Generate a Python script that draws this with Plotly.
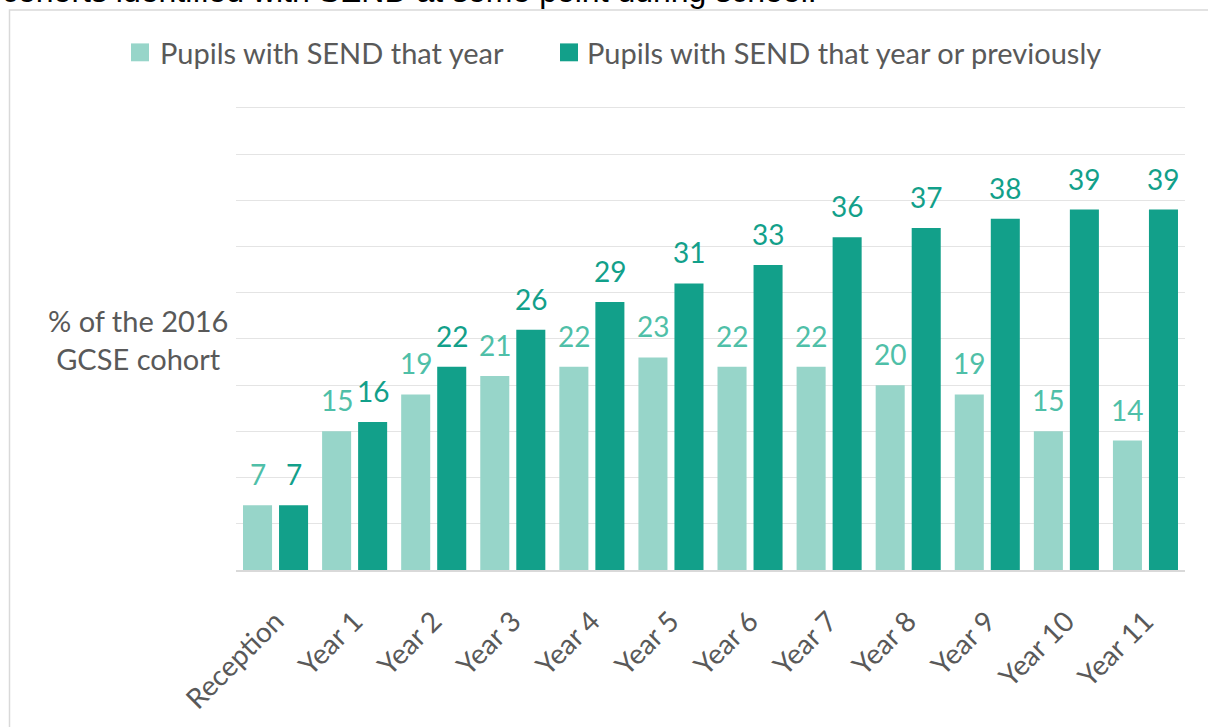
import plotly.graph_objects as go

# Share of the 2016 GCSE cohort identified with SEND, by school year
categories = ["Reception", "Year 1", "Year 2", "Year 3", "Year 4", "Year 5",
              "Year 6", "Year 7", "Year 8", "Year 9", "Year 10", "Year 11"]
send_that_year = [7, 15, 19, 21, 22, 23, 22, 22, 20, 19, 15, 14]
send_ever = [7, 16, 22, 26, 29, 31, 33, 36, 37, 38, 39, 39]
series_names = ["Pupils with SEND that year", "Pupils with SEND that year or previously"]

LIGHT = "#97D5C9"
DARK = "#12A08A"
LIGHT_TXT = "#4FBFA8"
GREY_TXT = "#595959"
FONT = "Lato"

W, H = 1208, 727
# plot box in page pixels; y range tops out a touch above 50 so the top gridline shows
L, R, T, B = 236, 1185, 106, 573
Y_MAX = 50.2


def px_x(x):
    return (x - L) / (R - L)


def px_y(y):
    return (B - y) / (B - T)


fig = go.Figure()
fig.add_trace(go.Bar(x=categories, y=send_that_year, name=series_names[0],
                     marker=dict(color=LIGHT, line=dict(width=0))))
fig.add_trace(go.Bar(x=categories, y=send_ever, name=series_names[1],
                     marker=dict(color=DARK, line=dict(width=0))))

annotations = []
# value labels above each bar
for vals, shift, col in [(send_that_year, -18, LIGHT_TXT), (send_ever, 18, DARK)]:
    for c, v in zip(categories, vals):
        annotations.append(dict(x=c, y=v, xref="x", yref="y", text=str(v),
                                showarrow=False, xshift=shift, yanchor="bottom",
                                yshift=12, font=dict(family=FONT, size=28, color=col)))

# axis title at the left
annotations.append(dict(x=px_x(138), y=px_y(341), xref="paper", yref="paper",
                        text="% of the 2016<br>GCSE cohort", showarrow=False,
                        xanchor="center", yanchor="middle", align="center",
                        font=dict(family=FONT, size=29, color=GREY_TXT)))

# legend entries
shapes = []
legend_items = [(131, 158, LIGHT, series_names[0]), (560, 585, DARK, series_names[1])]
for sq_x, tx, col, label in legend_items:
    shapes.append(dict(type="rect", xref="paper", yref="paper",
                       x0=px_x(sq_x), x1=px_x(sq_x + 18), y0=px_y(43), y1=px_y(61),
                       fillcolor=col, line=dict(width=0)))
    annotations.append(dict(x=px_x(tx), y=px_y(52), xref="paper", yref="paper",
                            text=label, showarrow=False, xanchor="left", yanchor="middle",
                            font=dict(family=FONT, size=29, color=GREY_TXT)))

# heading line running off the top of the page
annotations.append(dict(x=px_x(0), y=px_y(10), xref="paper", yref="paper",
                        text="cohorts identified with SEND at some point during school.",
                        showarrow=False, xanchor="left", yanchor="bottom",
                        font=dict(family="Liberation Sans", size=32, color="#000000")))

# chart frame
shapes.append(dict(type="rect", xref="paper", yref="paper",
                   x0=px_x(9.5), x1=px_x(1400), y0=px_y(9.5), y1=px_y(900),
                   line=dict(color="#D9D9D9", width=1.5), fillcolor="rgba(0,0,0,0)",
                   layer="below"))

fig.update_layout(
    width=W, height=H,
    margin=dict(l=L, r=W - R, t=T, b=H - B, pad=0),
    paper_bgcolor="white", plot_bgcolor="white",
    barmode="group", bargap=0.089, bargroupgap=0.194,
    showlegend=False,
    annotations=annotations, shapes=shapes,
    xaxis=dict(tickangle=-45, tickfont=dict(family=FONT, size=28, color=GREY_TXT),
               showline=True, linecolor="#D9D9D9", linewidth=1.5, ticks="",
               ticklabelstandoff=22, showgrid=False, fixedrange=True),
    yaxis=dict(range=[0, Y_MAX], tickvals=[5, 10, 15, 20, 25, 30, 35, 40, 45, 50],
               showticklabels=False, showgrid=True,
               gridcolor="#E4E4E4", gridwidth=1.2, zeroline=False, showline=False,
               fixedrange=True),
)

fig.write_html("out.html")
